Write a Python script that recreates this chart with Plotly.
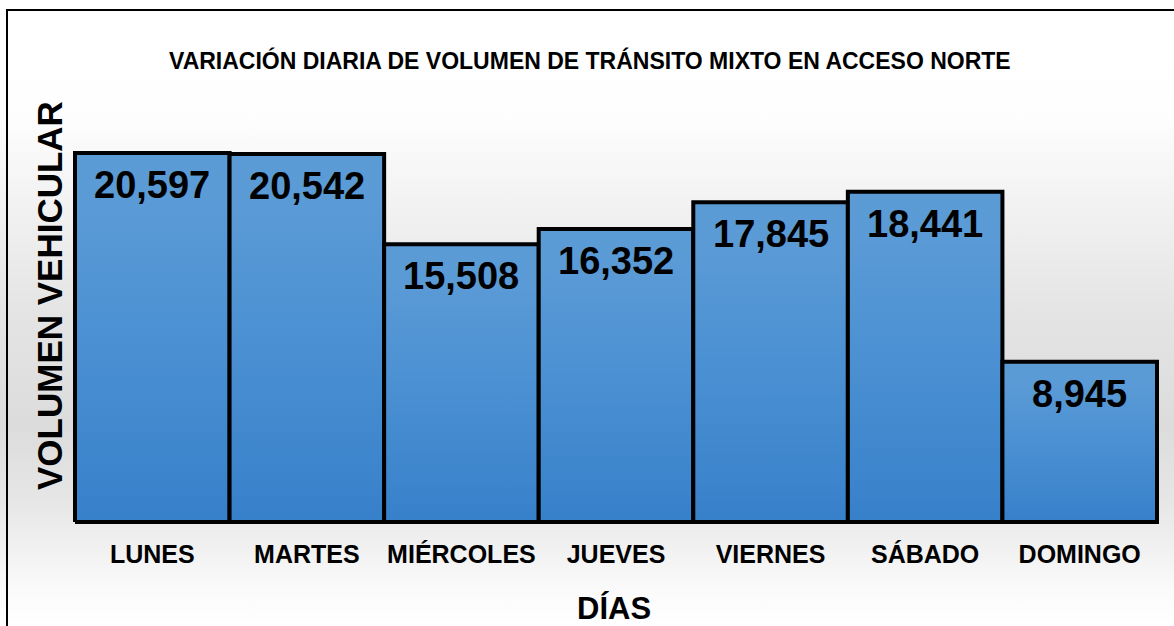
import plotly.graph_objects as go

days = ["LUNES", "MARTES", "MIÉRCOLES", "JUEVES", "VIERNES", "SÁBADO", "DOMINGO"]
volumes = [20597, 20542, 15508, 16352, 17845, 18441, 8945]
title_text = "VARIACIÓN DIARIA DE VOLUMEN DE TRÁNSITO MIXTO EN ACCESO NORTE"
x_title = "DÍAS"
y_title = "VOLUMEN VEHICULAR"

W, H = 1174, 626
FONT = "Arial, Liberation Sans, sans-serif"

fig = go.Figure()

# background gradient on a full-page helper subplot
fig.add_trace(go.Scatter(
    x=[0, 1, 1, 0, 0], y=[0, 0, 1, 1, 0], mode="lines", fill="toself",
    line=dict(width=0), hoverinfo="skip", xaxis="x", yaxis="y",
    fillgradient=dict(type="vertical", start=0, stop=1,
                      colorscale=[[0, "#ffffff"], [0.06, "#fafafa"], [0.2, "#e6e6e6"],
                                  [0.32, "#dcdcdc"], [0.5, "#e4e4e4"], [0.7, "#f4f4f4"],
                                  [0.82, "#fefefe"], [1, "#ffffff"]]),
))

# bars as filled polygons with vertical gradient, derived from data
for i, v in enumerate(volumes):
    fig.add_trace(go.Scatter(
        x=[i - 0.5, i + 0.5, i + 0.5, i - 0.5, i - 0.5],
        y=[0, 0, v, v, 0],
        mode="lines", fill="toself",
        line=dict(color="#000000", width=4),
        fillgradient=dict(type="vertical", start=0, stop=v,
                          colorscale=[[0, "#3780ca"], [0.55, "#4d92d3"], [0.85, "#5a9ad6"], [1, "#5b9bd5"]]),
        hoverinfo="skip", xaxis="x2", yaxis="y2",
    ))

annotations = []
for i, v in enumerate(volumes):
    annotations.append(dict(
        x=i, y=v, xref="x2", yref="y2", text=f"<b>{v:,}</b>", showarrow=False,
        xanchor="center", yanchor="middle", yshift=-32,
        font=dict(family=FONT, size=38, color="#000000"),
    ))

annotations.append(dict(x=590 / W, y=1 - 60 / H, xref="paper", yref="paper",
                        text=f"<b>{title_text}</b>", showarrow=False,
                        xanchor="center", yanchor="middle",
                        font=dict(family=FONT, size=23, color="#000000")))
annotations.append(dict(x=50 / W, y=1 - 296 / H, xref="paper", yref="paper",
                        text=f"<b>{y_title}</b>", showarrow=False, textangle=-90,
                        xanchor="center", yanchor="middle",
                        font=dict(family=FONT, size=35, color="#000000")))
annotations.append(dict(x=614 / W, y=1 - 608 / H, xref="paper", yref="paper",
                        text=f"<b>{x_title}</b>", showarrow=False,
                        xanchor="center", yanchor="middle",
                        font=dict(family=FONT, size=31, color="#000000")))

px_per_unit = (522 - 153) / 20597
ymin = -8 / px_per_unit
ymax = (522 - 100) / px_per_unit
xpad = 5 / (1082 / 7)

fig.update_layout(
    width=W, height=H,
    margin=dict(l=0, r=0, t=0, b=0),
    paper_bgcolor="#ffffff", plot_bgcolor="rgba(0,0,0,0)",
    showlegend=False, hovermode=False,
    xaxis=dict(domain=[0, 1], range=[0, 1], visible=False, fixedrange=True),
    yaxis=dict(domain=[0, 1], range=[0, 1], visible=False, fixedrange=True),
    xaxis2=dict(domain=[70 / W, 1162 / W], range=[-0.5 - xpad, 6.5 + xpad], anchor="y2",
                tickvals=list(range(len(days))), ticktext=[f"<b>{d}</b>" for d in days],
                tickfont=dict(family=FONT, size=25, color="#000000"),
                ticks="outside", ticklen=2, tickcolor="rgba(0,0,0,0)",
                showgrid=False, zeroline=False, showline=False, fixedrange=True),
    yaxis2=dict(domain=[(H - 530) / H, (H - 100) / H], range=[ymin, ymax], anchor="x2",
                showticklabels=False, showgrid=False, zeroline=False, showline=False, ticks="",
                fixedrange=True),
    annotations=annotations,
    shapes=[dict(type="rect", xref="paper", yref="paper",
                 x0=7 / W, x1=1.02, y0=-0.02, y1=1 - 10 / H,
                 line=dict(color="#000000", width=2), fillcolor="rgba(0,0,0,0)", layer="above")],
)

fig.write_html("out.html", config={"displayModeBar": False},
               post_script="document.body.style.margin='0';document.body.style.overflow='hidden';")
